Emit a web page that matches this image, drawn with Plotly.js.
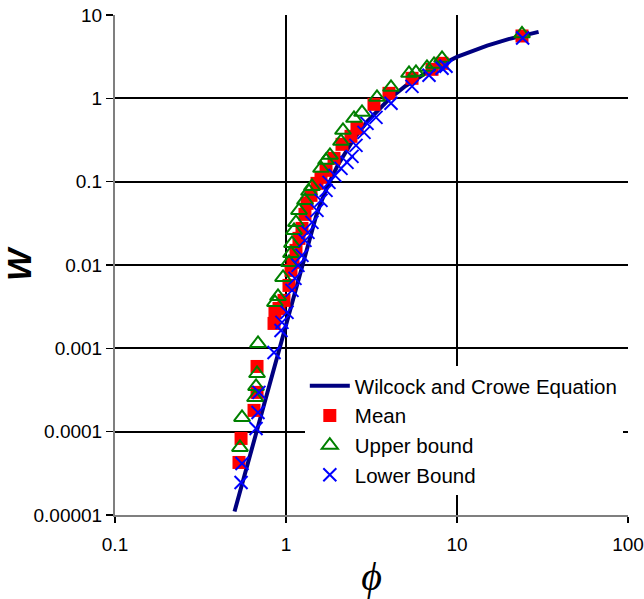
<!DOCTYPE html>
<html>
<head>
<meta charset="utf-8">
<script src="https://cdn.plot.ly/plotly-3.0.1.min.js"></script>
<style>
  html, body { margin: 0; padding: 0; background: #ffffff; }
  #chart { width: 644px; height: 599px; }
</style>
</head>
<body>
<div id="chart"></div>
<script>
// Wilcock and Crowe transport function, sampled along the curve
const eqPhi = [0.5, 0.6, 0.7, 0.8, 0.9, 1.0, 1.1, 1.15, 1.2, 1.25, 1.3, 1.35, 1.4, 1.5, 1.6, 1.75, 2.0, 2.25, 2.5, 3.0, 3.5, 4.0, 5.0, 7.0, 10, 15, 20, 25, 30];
const eqW   = [1.10e-5, 4.34e-5, 1.38e-4, 3.75e-4, 9.08e-4, 0.002, 0.00409, 0.00571, 0.00785, 0.01066, 0.01431, 0.0190, 0.0247, 0.0387, 0.0560, 0.0880, 0.1554, 0.2370, 0.3293, 0.5338, 0.7515, 0.9734, 1.407, 2.19, 3.139, 4.298, 5.13, 5.77, 6.28];

// Mean transport rates
const meanPhi = [0.531, 0.546, 0.650, 0.677, 0.677, 0.851, 0.862, 0.910, 0.973, 1.041, 1.070, 1.099, 1.144, 1.191, 1.240, 1.291, 1.327, 1.400, 1.518, 1.602, 1.714, 1.909, 2.126, 2.399, 2.601, 3.270, 4.002, 5.456, 7.142, 8.174, 23.99];
const meanW   = [4.27e-5, 8.29e-5, 1.80e-4, 2.96e-4, 6.06e-4, 1.99e-3, 2.70e-3, 3.01e-3, 3.76e-3, 5.69e-3, 8.61e-3, 0.01075, 0.01497, 0.02087, 0.02750, 0.04050, 0.0549, 0.0685, 0.0954, 0.1126, 0.1367, 0.1905, 0.2804, 0.3499, 0.4364, 0.847, 1.148, 1.739, 2.229, 2.632, 5.6];

// Upper bound of the transport rates
const upperPhi = [0.538, 0.553, 0.659, 0.668, 0.677, 0.686, 0.862, 0.898, 0.961, 1.041, 1.070, 1.084, 1.114, 1.144, 1.191, 1.291, 1.363, 1.419, 1.602, 1.714, 1.808, 2.097, 2.154, 2.498, 2.783, 3.405, 4.112, 5.240, 5.756, 6.674, 7.337, 8.174, 23.99];
const upperW   = [6.46e-5, 1.48e-4, 2.57e-4, 3.49e-4, 4.99e-4, 1.145e-3, 3.56e-3, 4.20e-3, 7.10e-3, 0.01075, 0.01378, 0.01817, 0.02602, 0.03246, 0.04522, 0.05963, 0.0765, 0.0878, 0.1444, 0.1802, 0.2068, 0.3047, 0.4128, 0.5752, 0.679, 1.028, 1.355, 1.995, 2.051, 2.355, 2.559, 3.02, 5.95];

// Lower bound of the transport rates
const lowerPhi = [0.546, 0.553, 0.668, 0.686, 0.695, 0.851, 0.935, 0.947, 1.014, 1.084, 1.129, 1.175, 1.240, 1.291, 1.345, 1.419, 1.518, 1.602, 1.714, 1.784, 1.934, 2.097, 2.274, 2.432, 2.567, 2.858, 2.977, 3.360, 4.112, 5.456, 6.860, 8.174, 8.626, 24.2];
const lowerW   = [2.46e-5, 4.15e-5, 1.09e-4, 1.70e-4, 2.96e-4, 8.93e-4, 1.64e-3, 2.05e-3, 2.70e-3, 4.96e-3, 6.91e-3, 9.89e-3, 0.01304, 0.01974, 0.02462, 0.03246, 0.04522, 0.05963, 0.0786, 0.0981, 0.1190, 0.1444, 0.1705, 0.2012, 0.2727, 0.3907, 0.501, 0.5913, 0.871, 1.393, 1.888, 2.291, 2.422, 5.3];

// Axis ticks
const xTickVals = [0.1, 1, 10, 100];
const xTickText = ['0.1', '1', '10', '100'];
const yTickVals = [0.00001, 0.0001, 0.001, 0.01, 0.1, 1, 10];
const yTickText = ['0.00001', '0.0001', '0.001', '0.01', '0.1', '1', '10'];

const traces = [
  {
    x: eqPhi, y: eqW, type: 'scatter', mode: 'lines',
    name: 'Wilcock and Crowe Equation', legendgroup: 'g1',
    line: { color: '#000080', width: 4 }
  },
  {
    x: meanPhi, y: meanW, type: 'scatter', mode: 'markers',
    name: 'Mean', legendgroup: 'g2',
    marker: { symbol: 'square', size: 13, color: '#ff0000' }
  },
  {
    x: upperPhi, y: upperW, type: 'scatter', mode: 'markers',
    name: 'Upper bound', legendgroup: 'g3',
    marker: { symbol: 'triangle-up-open', size: 14, color: '#008000', line: { width: 2, color: '#008000' } }
  },
  {
    x: lowerPhi, y: lowerW, type: 'scatter', mode: 'markers',
    name: 'Lower Bound', legendgroup: 'g4',
    marker: { symbol: 'x-thin-open', size: 13, color: '#0000ff', line: { width: 2, color: '#0000ff' } }
  }
];

const layout = {
  width: 644, height: 599,
  margin: { l: 115, r: 16, t: 15, b: 84 },
  paper_bgcolor: '#ffffff', plot_bgcolor: '#ffffff',
  font: { family: 'Liberation Sans, Arial, sans-serif', size: 18, color: '#000000' },
  showlegend: true,
  legend: {
    x: 0.37, y: 0.298, xanchor: 'left', yanchor: 'top',
    bgcolor: '#ffffff', borderwidth: 0,
    font: { size: 20.5, color: '#000000' },
    tracegroupgap: 0, itemwidth: 40,
    traceorder: 'grouped'
  },
  xaxis: {
    type: 'log', range: [-1, 2],
    tickvals: xTickVals, ticktext: xTickText,
    ticks: 'outside', ticklen: 6, tickwidth: 1.5, tickcolor: '#000000',
    ticklabelstandoff: 5,
    showline: true, linecolor: '#7f7f7f', linewidth: 2,
    showgrid: true, gridcolor: '#000000', gridwidth: 2,
    zeroline: false,
    tickfont: { size: 19 },
    title: { text: '\u03d5', font: { family: 'Liberation Serif, Times New Roman, serif', size: 40, style: 'italic' }, standoff: 9 }
  },
  yaxis: {
    type: 'log', range: [-5, 1],
    tickvals: yTickVals, ticktext: yTickText,
    ticks: 'outside', ticklen: 7, tickwidth: 1.5, tickcolor: '#000000',
    showline: true, linecolor: '#7f7f7f', linewidth: 2,
    showgrid: true, gridcolor: '#000000', gridwidth: 2,
    zeroline: false,
    tickfont: { size: 19 },
    title: { text: '<b><i>W</i></b>', font: { size: 34 }, standoff: 0 }
  }
};

Plotly.newPlot('chart', traces, layout, { displayModeBar: false, staticPlot: true });
</script>
</body>
</html>
